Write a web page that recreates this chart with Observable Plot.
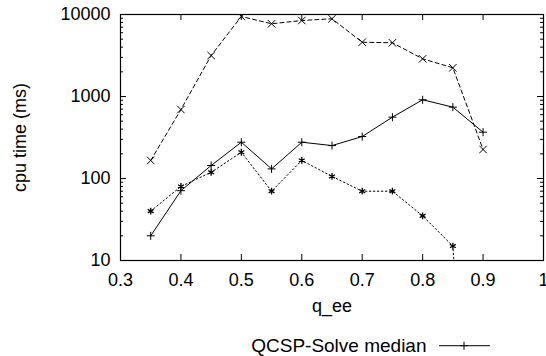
<!DOCTYPE html>
<html><head><meta charset="utf-8">
<script src="https://cdn.jsdelivr.net/npm/d3@7"></script>
<script src="https://cdn.jsdelivr.net/npm/@observablehq/plot@0.6"></script>
<style>
body{margin:0;background:#fff;}
#wrap{position:relative;width:546px;height:356px;overflow:hidden;font-family:"Liberation Sans",Arial,Helvetica,sans-serif;}
#legend{position:absolute;left:0;top:336px;width:546px;height:20px;}
</style></head><body>
<div id="wrap"><div id="chart"></div>
<svg id="legend" width="546" height="20" xmlns="http://www.w3.org/2000/svg">
  <text id="legText" x="426.5" y="15.5" text-anchor="end" font-size="19" fill="black" font-family="Liberation Sans, Arial, Helvetica, sans-serif"></text>
  <line x1="439" x2="490" y1="9.7" y2="9.7" stroke="black" stroke-width="1"/>
  <line x1="460" x2="468" y1="9.7" y2="9.7" stroke="black" stroke-width="1"/>
  <line x1="464" x2="464" y1="5.7" y2="13.7" stroke="black" stroke-width="1"/>
</svg>
</div>
<script>
// x values (q_ee)
const qee = [0.35, 0.4, 0.45, 0.5, 0.55, 0.6, 0.65, 0.7, 0.75, 0.8, 0.85, 0.9];
// QCSP-Solve median (solid, +)
const medianMs = [20, 71, 144, 277, 131, 277, 252, 325, 560, 912, 742, 367];
// dashed series (x)
const dashedMs = [166, 693, 3160, 9460, 7710, 8450, 8870, 4590, 4520, 2880, 2240, 226];
// dotted series (*) — last value falls below the axis
const dottedMs = [40, 80, 119, 209, 70, 166, 106, 70, 70, 35, 15, 0.0001];
const legendLabel = "QCSP-Solve median";
const xTicks = [0.3, 0.4, 0.5, 0.6, 0.7, 0.8, 0.9, 1];
const yTicks = [10, 100, 1000, 10000];
const yMinor = [20,30,40,50,60,70,80,90,200,300,400,500,600,700,800,900,2000,3000,4000,5000,6000,7000,8000,9000];

document.getElementById("legText").textContent = legendLabel;

const rows = (vals) => qee.map((q, i) => ({q, v: vals[i]}));
const font = '"Liberation Sans", Arial, Helvetica, sans-serif';

const chart = Plot.plot({
  width: 546, height: 356,
  marginLeft: 120, marginRight: 3, marginTop: 14, marginBottom: 96,
  style: {fontFamily: font, fontSize: "18px", color: "black", background: "white", overflow: "visible"},
  x: {domain: [0.3, 1]},
  y: {type: "log", domain: [10, 10000]},
  marks: [
    Plot.ruleX(xTicks, {insetTop: 240, stroke: "black"}),
    Plot.ruleX(xTicks, {insetBottom: 240, stroke: "black"}),
    Plot.ruleY(yTicks, {insetRight: 417, stroke: "black"}),
    Plot.ruleY(yTicks, {insetLeft: 417, stroke: "black"}),
    Plot.ruleY(yMinor, {insetRight: 420, stroke: "black"}),
    Plot.ruleY(yMinor, {insetLeft: 420, stroke: "black"}),
    Plot.axisX(xTicks, {tickSize: 0, tickPadding: 13, tickFormat: d => String(d), label: null, fontSize: 18}),
    Plot.axisY(yTicks, {tickSize: 0, tickPadding: 10, tickFormat: d => String(d), label: null, fontSize: 18}),
    Plot.line(rows(medianMs), {x: "q", y: "v", stroke: "black", strokeWidth: 1, clip: true}),
    Plot.dot(rows(medianMs), {x: "q", y: "v", symbol: "plus", r: 2.7, stroke: "black", strokeWidth: 1, clip: true}),
    Plot.line(rows(dashedMs), {x: "q", y: "v", stroke: "black", strokeWidth: 1, strokeDasharray: "4,3", clip: true}),
    Plot.dot(rows(dashedMs), {x: "q", y: "v", symbol: "times", r: 3.5, stroke: "black", strokeWidth: 1, clip: true}),
    Plot.line(rows(dottedMs), {x: "q", y: "v", stroke: "black", strokeWidth: 1, strokeDasharray: "1.5,2.5", clip: true}),
    Plot.dot(rows(dottedMs), {x: "q", y: "v", symbol: "asterisk", r: 3.2, stroke: "black", strokeWidth: 1.3, clip: true}),
    Plot.frame({stroke: "black", strokeWidth: 1.2}),
    Plot.text(["cpu time (ms)"], {text: d => d, frameAnchor: "left", dx: -100, rotate: -90, textAnchor: "middle", lineAnchor: "middle", fontSize: 18, fill: "black"}),
    Plot.text(["q_ee"], {text: d => d, frameAnchor: "bottom", dy: 46, textAnchor: "middle", lineAnchor: "middle", fontSize: 18, fill: "black"})
  ]
});
document.getElementById("chart").appendChild(chart);
</script>
</body></html>
